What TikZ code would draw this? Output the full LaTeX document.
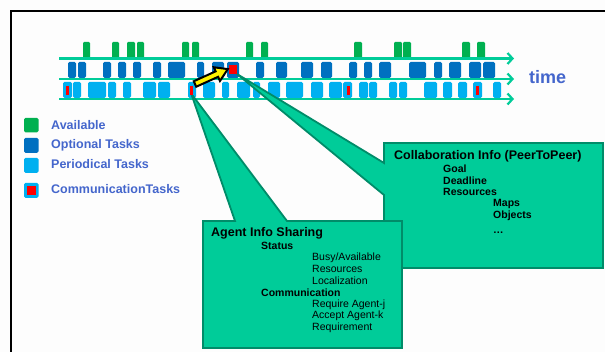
\documentclass[tikz,border=0pt]{standalone}
\usepackage{fontspec}
\setmainfont{Liberation Sans}
\usetikzlibrary{arrows.meta}

\definecolor{axisgreen}{RGB}{0,204,153}
\definecolor{availgreen}{RGB}{0,176,80}
\definecolor{optblue}{RGB}{0,112,192}
\definecolor{perblue}{RGB}{0,176,240}
\definecolor{commred}{RGB}{255,0,0}
\definecolor{legendblue}{RGB}{68,102,204}
\definecolor{calloutfill}{RGB}{0,204,153}
\definecolor{calloutedge}{RGB}{0,140,105}
\definecolor{paper}{RGB}{253,253,253}

\tikzset{
  axisline/.style={draw=axisgreen, line width=2.3pt,
    -{Straight Barb[length=5pt,width=11pt,line width=2.2pt]}},
  availblock/.style={fill=availgreen, rounded corners=1.2pt},
  optblock/.style={fill=optblue, rounded corners=1.5pt},
  perblock/.style={fill=perblue, rounded corners=1.5pt},
  commstripe/.style={fill=commred},
  legtext/.style={text=legendblue, font=\fontsize{12.5}{14}\selectfont\bfseries, anchor=west, inner sep=0pt},
  timelabel/.style={text=legendblue, font=\fontsize{18}{20}\selectfont\bfseries, anchor=west, inner sep=0pt},
  callout/.style={fill=calloutfill, draw=calloutedge, line width=1.8pt, line join=miter},
  boxtitle/.style={font=\fontsize{12.5}{14}\selectfont\bfseries, anchor=west, inner sep=0pt},
  boxitem/.style={font=\fontsize{10.5}{12}\selectfont\bfseries, anchor=west, inner sep=0pt},
  boxsubitem/.style={font=\fontsize{10.5}{12}\selectfont, anchor=west, inner sep=0pt},
}

\begin{document}
\begin{tikzpicture}[x=1pt, y=-1pt]
  % page and frame
  \fill[paper] (0,0) rectangle (605,352);
  \useasboundingbox (0,0) rectangle (605,352);
  \draw[black, line width=2pt] (11,352) -- (11,11) -- (605,11);

  % available slots (above the first time axis)
  \foreach \a/\b in {83/90,112/119,127/135,137/144,182/189,192/199,246/253,261/268,
                     354/362,394/402,403/411,462/470,477/485}
    \fill[availblock] (\a,42) rectangle (\b,58);

  % optional tasks (second row)
  \foreach \a/\b in {68/76,78/86,103/111,118/126,133/141,153/161,168/185,197/204,
                     212/224,227/239,256/264,276/287,301/313,321/332,349/357,364/372,
                     379/391,409/426,434/442,449/461,469/481,483/495}
    \fill[optblock] (\a,62) rectangle (\b,78);

  % periodical tasks (third row)
  \foreach \a/\b in {63/72,73/81,88/106,108/116,123/131,143/156,158/170,188/196,
                     203/215,222/229,237/250,253/260,268/280,286/303,311/323,329/342,
                     343/352,359/368,369/377,389/397,399/407,424/437,443/452,458/467,
                     473/482,493/501}
    \fill[perblock] (\a,82) rectangle (\b,98);

  % communication tasks inside periodical slots
  \foreach \a in {66,190,347,476}
    \fill[commstripe] (\a,86) rectangle (\a+2.5,95);

  % time axes
  \coordinate (axAs) at (59,58.5);  \coordinate (axAe) at (514,58.5);
  \coordinate (axBs) at (59,79);    \coordinate (axBe) at (514,79);
  \coordinate (axCs) at (59,99);    \coordinate (axCe) at (514,99);
  \draw[axisline] (axAs) -- (axAe);
  \draw[axisline] (axBs) -- (axBe);
  \draw[axisline] (axCs) -- (axCe);
  \node[timelabel] (time) at (529,77) {time};

  % legend
  \fill[availgreen, rounded corners=1.5pt] (24,118) rectangle (38.5,132.5);
  \fill[optblue, rounded corners=1.5pt] (24,138) rectangle (38.5,153);
  \fill[perblue, rounded corners=1.5pt] (24,158) rectangle (38.5,173);
  \fill[perblue, rounded corners=1.5pt] (24,183) rectangle (38.5,198);
  \fill[commred] (27,186) rectangle (36,195);
  \node[legtext] (lavail) at (51,125) {Available};
  \node[legtext] (lopt)   at (51,145) {Optional Tasks};
  \node[legtext] (lper)   at (51,164) {Periodical Tasks};
  \node[legtext] (lcomm)  at (51,189) {CommunicationTasks};

  % collaboration callout
  \draw[callout] (384,143) -- (603,143) -- (603,268) -- (384,268) -- (384,195)
                 -- (237,74) -- (384,163) -- cycle;
  \node[boxtitle] (collab) at (394,156) {Collaboration Info (PeerToPeer)};
  \node[boxitem] (goal)  at (443,169) {Goal};
  \node[boxitem] (dead)  at (443,181) {Deadline};
  \node[boxitem] (res)   at (443,192) {Resources};
  \node[boxitem] (maps)  at (493,204) {Maps};
  \node[boxitem] (objs)  at (493,216) {Objects};
  \node[boxitem] (more)  at (493,233) {\ldots};

  % agent info callout
  \draw[callout] (203,221) -- (235,221) -- (192,96) -- (193,96) -- (287,221)
                 -- (402,221) -- (402,348) -- (203,348) -- cycle;
  \node[boxtitle] (agent) at (211,233) {Agent Info Sharing};
  \node[boxitem] (status) at (261,246) {Status};
  \node[boxsubitem] (busy) at (312,258) {Busy/Available};
  \node[boxsubitem] (ares) at (312,269) {Resources};
  \node[boxsubitem] (loc)  at (312,281) {Localization};
  \node[boxitem] (comm) at (261,293) {Communication};
  \node[boxsubitem] (reqj) at (312,305) {Require Agent-j};
  \node[boxsubitem] (acck) at (312,316) {Accept Agent-k};
  \node[boxsubitem] (req)  at (312,328) {Requirement};

  % message being sent to a peer
  \fill[commred] (229,65) rectangle (237,74);
  \begin{scope}[shift={(195,84)}, rotate=24.4]
    \draw[fill=yellow, draw=black, line width=2pt, line join=miter]
      (0,-3) -- (24,-3) -- (24,-7.5) -- (36,0) -- (24,7.5) -- (24,3)
      -- (0,3) -- cycle;
  \end{scope}
\end{tikzpicture}
\end{document}
